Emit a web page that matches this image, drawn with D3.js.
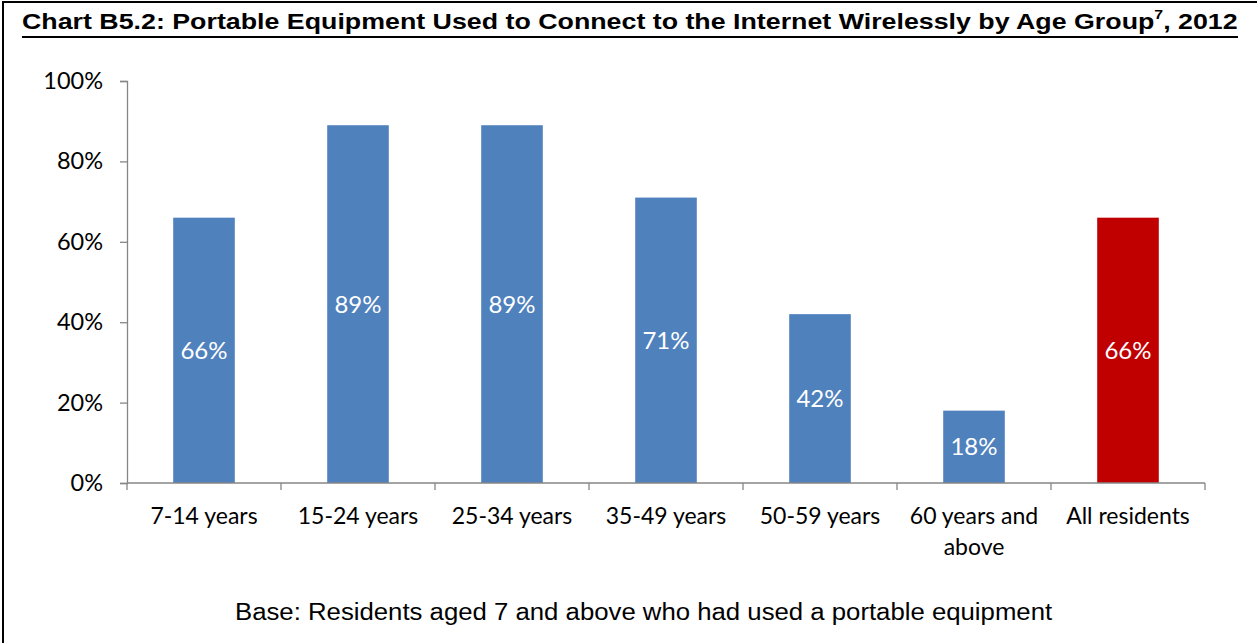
<!DOCTYPE html>
<html>
<head>
<meta charset="utf-8">
<script src="https://cdn.jsdelivr.net/npm/d3@7"></script>
<style>
  html, body { margin: 0; padding: 0; background: #fff; }
  svg { display: block; }
</style>
</head>
<body>
<svg id="chart" width="1257" height="643"></svg>
<script>
// Share of residents using portable equipment to go online wirelessly, by age group
const categories = ["7-14 years", "15-24 years", "25-34 years", "35-49 years", "50-59 years", "60 years and|above", "All residents"];
const values = [66, 89, 89, 71, 42, 18, 66];
const barColors = ["#4F81BD", "#4F81BD", "#4F81BD", "#4F81BD", "#4F81BD", "#4F81BD", "#C00000"];
const yTicks = [0, 20, 40, 60, 80, 100];

const svg = d3.select("#chart");
const W = 1257, H = 643;
const plot = { left: 127, right: 1205, top: 81, bottom: 483 };

// Frame around the exhibit
svg.append("line").attr("x1", 3).attr("y1", 2).attr("x2", W).attr("y2", 2)
  .attr("stroke", "#000").attr("stroke-width", 2);
svg.append("line").attr("x1", 3).attr("y1", 1).attr("x2", 3).attr("y2", H)
  .attr("stroke", "#000").attr("stroke-width", 2);

// Stretch a text group horizontally so it spans [x0, x1]
function fitWidth(g, x0, x1) {
  const b = g.node().getBBox();
  const s = (x1 - x0) / b.width;
  g.attr("transform", `translate(${x0},0) scale(${s},1) translate(${-b.x},0)`);
}

// Title with superscript footnote marker
const titleG = svg.append("g");
const title = titleG.append("text")
  .attr("x", 0).attr("y", 29)
  .attr("font-family", "Liberation Sans, Arial, sans-serif")
  .attr("font-weight", "bold").attr("font-size", 22)
  .attr("fill", "#000");
title.append("tspan").text("Chart B5.2: Portable Equipment Used to Connect to the Internet Wirelessly by Age Group");
title.append("tspan").attr("font-size", 13).attr("dy", -10).text("7");
title.append("tspan").attr("dy", 10).text(", 2012");
fitWidth(titleG, 22, 1238);
svg.append("line").attr("x1", 22).attr("x2", 1238).attr("y1", 37).attr("y2", 37)
  .attr("stroke", "#000").attr("stroke-width", 2);

// Scales
const x = d3.scaleBand().domain(categories).range([plot.left, plot.right])
  .paddingInner(0.6).paddingOuter(0.3);
const y = d3.scaleLinear().domain([0, 100]).range([plot.bottom, plot.top]);

const axisColor = "#868686";
const labelFont = "Lato, Calibri, sans-serif";

// Y axis
const yAxis = svg.append("g").attr("transform", `translate(${plot.left},0)`)
  .call(d3.axisLeft(y).tickValues(yTicks).tickSize(7).tickPadding(17).tickFormat(d => d + "%"));
yAxis.select(".domain").attr("stroke", axisColor).attr("stroke-width", 1.3);
yAxis.selectAll(".tick line").attr("stroke", axisColor).attr("stroke-width", 1.3);
yAxis.selectAll(".tick text").attr("font-family", labelFont).attr("font-size", 23.5)
  .attr("fill", "#000");

// Bars
svg.append("g").selectAll("rect").data(values).join("rect")
  .attr("x", (d, i) => x(categories[i]))
  .attr("width", x.bandwidth())
  .attr("y", d => y(d))
  .attr("height", d => y(0) - y(d))
  .attr("fill", (d, i) => barColors[i]);

// Value labels centred inside each bar
svg.append("g").selectAll("text").data(values).join("text")
  .attr("x", (d, i) => x(categories[i]) + x.bandwidth() / 2)
  .attr("y", d => (y(d) + y(0)) / 2)
  .attr("dy", "0.35em")
  .attr("text-anchor", "middle")
  .attr("font-family", labelFont).attr("font-size", 24)
  .attr("fill", "#fff")
  .text(d => d + "%");

// X axis: ticks sit on the category boundaries
const step = x.step();
const bounds = d3.range(categories.length + 1).map(i => plot.left + i * step);
const xAxis = svg.append("g");
xAxis.append("line").attr("x1", plot.left).attr("x2", bounds[bounds.length - 1])
  .attr("y1", y(0)).attr("y2", y(0)).attr("stroke", axisColor).attr("stroke-width", 1.3);
xAxis.selectAll("line.tk").data(bounds).join("line").attr("class", "tk")
  .attr("x1", d => d).attr("x2", d => d).attr("y1", y(0)).attr("y2", y(0) + 7)
  .attr("stroke", axisColor).attr("stroke-width", 1.3);
const xl = xAxis.selectAll("text").data(categories).join("text")
  .attr("x", d => x(d) + x.bandwidth() / 2)
  .attr("y", 524)
  .attr("text-anchor", "middle")
  .attr("font-family", labelFont).attr("font-size", 23)
  .attr("fill", "#000");
xl.each(function(d) {
  const parts = d.split("|");
  const t = d3.select(this);
  parts.forEach((p, i) => {
    t.append("tspan").attr("x", t.attr("x")).attr("dy", i === 0 ? 0 : 31).text(p);
  });
});

// Base note
const noteG = svg.append("g");
noteG.append("text")
  .attr("x", 0).attr("y", 620)
  .attr("font-family", "Liberation Sans, Arial, sans-serif")
  .attr("font-size", 23)
  .attr("fill", "#000")
  .text("Base: Residents aged 7 and above who had used a portable equipment");
fitWidth(noteG, 235, 1053);
</script>
</body>
</html>
